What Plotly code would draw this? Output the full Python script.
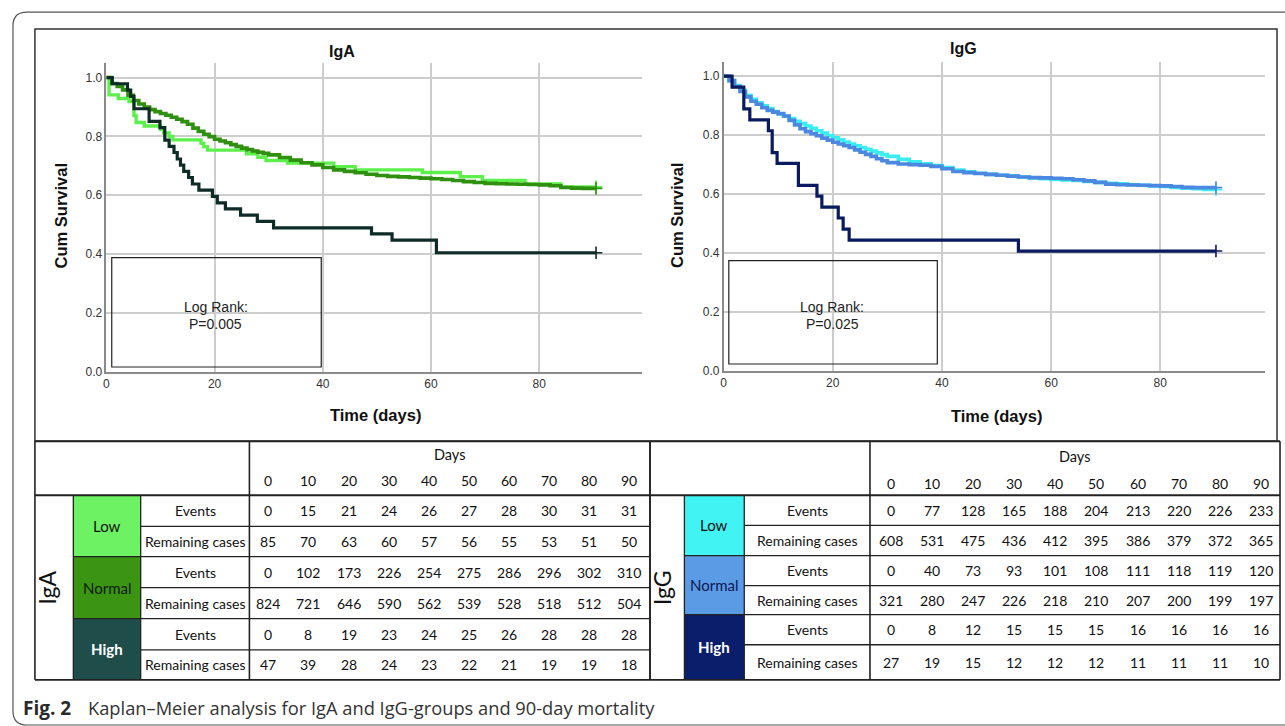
import plotly.graph_objects as go

# ---------------- data ----------------
# Kaplan-Meier curves (step points): time in days, cumulative survival
iga_low_t = [0, 0.5, 2.2, 4.2, 5.1, 5.5, 7.0, 10.0, 10.6, 11.6, 12.3, 17.5, 18.0, 18.7, 25.9, 28.0, 29.5, 33.5, 42.0, 46.0, 58.4, 65.4, 69.5, 77.4, 84.0, 90.5]
iga_low_s = [1.0, 0.941, 0.929, 0.918, 0.871, 0.847, 0.835, 0.824, 0.812, 0.800, 0.788, 0.776, 0.765, 0.753, 0.741, 0.729, 0.718, 0.709, 0.697, 0.686, 0.677, 0.663, 0.650, 0.638, 0.628, 0.628]

iga_normal_t = [0, 1, 2, 3, 4, 5, 6, 7, 8, 9, 10, 11, 12, 13, 14, 15, 16, 17, 18, 19, 20, 21, 22, 23, 24, 25, 26, 27, 28, 29, 30,
                32, 34, 36, 38, 40, 42, 44, 46, 48, 50, 52, 54, 56, 58, 60, 62, 64, 66, 68, 70, 72, 74, 76, 78, 80, 82, 84, 86, 88, 90.5]
iga_normal_s = [1.0, 0.98, 0.97, 0.958, 0.94, 0.922, 0.91, 0.90, 0.891, 0.884, 0.878, 0.872, 0.865, 0.858, 0.85, 0.841, 0.828, 0.817, 0.807, 0.799, 0.79,
                0.784, 0.778, 0.772, 0.766, 0.76, 0.755, 0.75, 0.746, 0.742, 0.737, 0.728, 0.719, 0.71, 0.703, 0.694, 0.686, 0.681, 0.676, 0.671, 0.667,
                0.664, 0.662, 0.66, 0.658, 0.656, 0.653, 0.65, 0.646, 0.643, 0.64, 0.639, 0.638, 0.637, 0.636, 0.635, 0.632, 0.626, 0.624, 0.623, 0.623]

iga_high_t = [0, 1.1, 3.9, 4.5, 5.1, 7.9, 9.9, 10.8, 11.6, 12.5, 13.1, 13.7, 14.3, 15.2, 15.9, 17.1, 19.6, 20.5, 22.0, 24.8, 27.9, 30.9, 49.0, 52.8, 61.0, 90.5]
iga_high_s = [1.0, 0.979, 0.957, 0.936, 0.894, 0.851, 0.830, 0.787, 0.766, 0.745, 0.723, 0.702, 0.681, 0.660, 0.638, 0.617, 0.596, 0.574, 0.553, 0.532, 0.511, 0.489, 0.468, 0.447, 0.404, 0.404]

igg_low_t = [0, 1, 2, 3, 4, 5, 6, 7, 8, 9, 10, 11, 12, 13, 14, 15, 16, 17, 18, 19, 20, 21, 22, 23, 24, 25, 26, 27, 28, 29, 30,
             32, 34, 36, 38, 40, 42, 44, 46, 48, 50, 52, 54, 56, 58, 60, 62, 64, 66, 68, 70, 72, 74, 76, 78, 80, 82, 84, 86, 88, 90.2]
igg_low_s = [1.0, 0.985, 0.968, 0.952, 0.935, 0.922, 0.91, 0.9, 0.89, 0.88, 0.872, 0.864, 0.856, 0.847, 0.839, 0.831, 0.823, 0.815, 0.807, 0.799, 0.791,
             0.784, 0.777, 0.77, 0.764, 0.758, 0.752, 0.746, 0.74, 0.734, 0.728, 0.718, 0.71, 0.703, 0.697, 0.69, 0.682, 0.676, 0.671, 0.667, 0.664,
             0.661, 0.658, 0.655, 0.652, 0.65, 0.648, 0.646, 0.643, 0.64, 0.637, 0.635, 0.632, 0.63, 0.628, 0.626, 0.623, 0.62, 0.618, 0.616, 0.615]

igg_normal_t = [0, 1, 2, 3, 4, 5, 6, 7, 8, 9, 10, 11, 12, 13, 14, 15, 16, 17, 18, 19, 20, 21, 22, 23, 24, 25, 26, 27, 28, 29, 30,
                32, 34, 36, 38, 40, 42, 44, 46, 48, 50, 52, 54, 56, 58, 60, 62, 64, 66, 68, 70, 72, 74, 76, 78, 80, 82, 84, 86, 88, 90.2]
igg_normal_s = [1.0, 0.985, 0.965, 0.948, 0.93, 0.915, 0.905, 0.893, 0.884, 0.878, 0.873, 0.865, 0.85, 0.835, 0.822, 0.812, 0.805, 0.798, 0.79, 0.783, 0.776,
                0.77, 0.764, 0.758, 0.75, 0.742, 0.735, 0.728, 0.72, 0.713, 0.707, 0.702, 0.7, 0.698, 0.694, 0.686, 0.677, 0.673, 0.67, 0.667, 0.664,
                0.661, 0.658, 0.656, 0.655, 0.654, 0.652, 0.649, 0.645, 0.64, 0.634, 0.632, 0.631, 0.63, 0.629, 0.628, 0.626, 0.623, 0.622, 0.622, 0.622]

igg_high_t = [0, 1.55, 3.7, 4.8, 8.2, 8.9, 9.8, 13.7, 17.1, 18.0, 21.0, 21.9, 23.0, 54.0, 90.2]
igg_high_s = [1.0, 0.963, 0.889, 0.852, 0.815, 0.741, 0.704, 0.630, 0.593, 0.556, 0.519, 0.481, 0.444, 0.407, 0.407]

x_ticks = [0, 20, 40, 60, 80]
y_ticks = [0.0, 0.2, 0.4, 0.6, 0.8, 1.0]

iga_p = "P=0.005"
igg_p = "P=0.025"

# Risk tables
days = [0, 10, 20, 30, 40, 50, 60, 70, 80, 90]
groups = ["Low", "Normal", "High"]
row_labels = ["Events", "Remaining cases"]
iga_low_events = [0, 15, 21, 24, 26, 27, 28, 30, 31, 31]
iga_low_remaining = [85, 70, 63, 60, 57, 56, 55, 53, 51, 50]
iga_normal_events = [0, 102, 173, 226, 254, 275, 286, 296, 302, 310]
iga_normal_remaining = [824, 721, 646, 590, 562, 539, 528, 518, 512, 504]
iga_high_events = [0, 8, 19, 23, 24, 25, 26, 28, 28, 28]
iga_high_remaining = [47, 39, 28, 24, 23, 22, 21, 19, 19, 18]
igg_low_events = [0, 77, 128, 165, 188, 204, 213, 220, 226, 233]
igg_low_remaining = [608, 531, 475, 436, 412, 395, 386, 379, 372, 365]
igg_normal_events = [0, 40, 73, 93, 101, 108, 111, 118, 119, 120]
igg_normal_remaining = [321, 280, 247, 226, 218, 210, 207, 200, 199, 197]
igg_high_events = [0, 8, 12, 15, 15, 15, 16, 16, 16, 16]
igg_high_remaining = [27, 19, 15, 12, 12, 12, 11, 11, 11, 10]

caption_bold = "Fig. 2"
caption_text = "Kaplan–Meier analysis for IgA and IgG-groups and 90-day mortality"

# ---------------- styling / geometry ----------------
W, H = 1285, 735
REF_H = 726
def fx(p): return p / W
def fy(p): return 1 - p / REF_H

NARROW = "Liberation Sans Narrow, Arial Narrow, Liberation Sans, Arial, sans-serif"
SANS = "Liberation Sans, Arial, sans-serif"
TAB = "Lato, Carlito, Calibri, Open Sans, sans-serif"

iga_colors = {"Low": "#5def4b", "Normal": "#2f8f0e", "High": "#0f2b27"}
igg_colors = {"Low": "#3aeef0", "Normal": "#4a88e2", "High": "#0a1a5e"}
iga_cell = {"Low": "#6cf262", "Normal": "#3b9513", "High": "#1f4d4a"}
igg_cell = {"Low": "#42f3f3", "Normal": "#5b9be6", "High": "#0a1e6b"}
cell_text = {"iga": {"Low": "#111111", "Normal": "#0d1a05", "High": "#ffffff"},
             "igg": {"Low": "#111111", "Normal": "#0a1850", "High": "#ffffff"}}

fig = go.Figure()

def add_curve(t, s, color, width, xa, ya):
    fig.add_trace(go.Scatter(x=t, y=s, mode="lines", line=dict(shape="hv", color=color, width=width),
                             xaxis=xa, yaxis=ya, hoverinfo="skip", showlegend=False))
    fig.add_trace(go.Scatter(x=[t[-1]], y=[s[-1]], mode="markers",
                             marker=dict(symbol="cross-thin", size=9, line=dict(width=1.6, color=color)),
                             xaxis=xa, yaxis=ya, hoverinfo="skip", showlegend=False))

add_curve(iga_low_t, iga_low_s, iga_colors["Low"], 3.4, "x", "y")
add_curve(iga_normal_t, iga_normal_s, iga_colors["Normal"], 3.6, "x", "y")
add_curve(iga_high_t, iga_high_s, iga_colors["High"], 3.2, "x", "y")
add_curve(igg_low_t, igg_low_s, igg_colors["Low"], 3.6, "x2", "y2")
add_curve(igg_normal_t, igg_normal_s, igg_colors["Normal"], 3.6, "x2", "y2")
add_curve(igg_high_t, igg_high_s, igg_colors["High"], 3.2, "x2", "y2")

axis_common = dict(showgrid=True, gridcolor="#cdcdcd", gridwidth=1.5, zeroline=False,
                   showline=True, linecolor="#8a8a8a", linewidth=1.5, ticks="",
                   tickfont=dict(family=NARROW, size=12, color="#333333"), fixedrange=True)

fig.update_layout(
    width=W, height=H, margin=dict(l=0, r=0, t=0, b=0),
    paper_bgcolor="white", plot_bgcolor="white", showlegend=False,
    xaxis=dict(domain=[fx(103.6), fx(640)], range=[0, 98.9], anchor="y", tickvals=x_ticks, **axis_common),
    yaxis=dict(domain=[fy(370.5), fy(62.7)], range=[0, 1.05], anchor="x", tickvals=y_ticks, tickformat=".1f", **axis_common),
    xaxis2=dict(domain=[fx(722.3), fx(1264.5)], range=[0, 99.1], anchor="y2", tickvals=x_ticks, **axis_common),
    yaxis2=dict(domain=[fy(370), fy(61.7)], range=[0, 1.0486], anchor="x2", tickvals=y_ticks, tickformat=".1f", **axis_common),
)

shapes = []
annos = []

def line(x0, y0, x1, y1, color="#222222", width=1.3):
    shapes.append(dict(type="line", xref="paper", yref="paper", x0=fx(x0), y0=fy(y0), x1=fx(x1), y1=fy(y1),
                       line=dict(color=color, width=width), layer="above"))

def rect(x0, y0, x1, y1, fill=None, color="#222222", width=1.2, layer="above"):
    d = dict(type="rect", xref="paper", yref="paper", x0=fx(x0), y0=fy(y0), x1=fx(x1), y1=fy(y1),
             line=dict(color=color, width=width if fill is None else 0), layer=layer)
    if fill:
        d["fillcolor"] = fill
    shapes.append(d)

def text(x, y, s, size=14, color="#111111", family=TAB, xanchor="center", angle=0, bold=False):
    annos.append(dict(xref="paper", yref="paper", x=fx(x), y=fy(y), text=("<b>%s</b>" % s) if bold else s,
                      showarrow=False, xanchor=xanchor, yanchor="middle", textangle=angle,
                      font=dict(family=family, size=size, color=color)))

# outer rounded frame
pts = [(1300, 12), (24, 12), (10, 12), (10, 26), (10, 709), (10, 723), (24, 723), (1300, 723)]
p = [(fx(a), fy(b)) for a, b in pts]
path = "M %f,%f L %f,%f Q %f,%f %f,%f L %f,%f Q %f,%f %f,%f L %f,%f" % (
    p[0][0], p[0][1], p[1][0], p[1][1], p[2][0], p[2][1], p[3][0], p[3][1],
    p[4][0], p[4][1], p[5][0], p[5][1], p[6][0], p[6][1], p[7][0], p[7][1])
shapes.append(dict(type="path", xref="paper", yref="paper", path=path, line=dict(color="#555555", width=1.2)))

# inner frame of plots
rect(32, 29, 1277, 440, color="#333333", width=1.5)

# plot titles and axis titles
text(340, 51, "IgA", size=16, color="#111111", family=NARROW, bold=True)
text(963, 48, "IgG", size=16, color="#111111", family=NARROW, bold=True)
text(58, 215, "Cum Survival", size=16.5, color="#111111", family=SANS, angle=-90, bold=True)
text(675, 215, "Cum Survival", size=16.5, color="#111111", family=SANS, angle=-90, bold=True)
text(373, 414, "Time (days)", size=16.5, color="#111111", family=SANS, bold=True)
text(996, 415, "Time (days)", size=16.5, color="#111111", family=SANS, bold=True)

# log rank boxes
rect(109, 257, 319, 366, color="#222222", width=1.2)
text(213, 306, "Log Rank:", size=14, color="#222222", family=NARROW)
text(213, 323, iga_p, size=14, color="#222222", family=NARROW)
rect(727.5, 260, 936.5, 363, color="#222222", width=1.2)
text(831, 306, "Log Rank:", size=14, color="#222222", family=NARROW)
text(831, 323, igg_p, size=14, color="#222222", family=NARROW)

# ---------------- risk tables ----------------
def table(cols, rows, x0, dx, days_y, nums_y, name, name_x, cells, txtc, data):
    for g in range(3):
        rect(cols[1], rows[2 * g], cols[2], rows[2 * g + 2], fill=cells[groups[g]], layer="below")
    line(cols[0], 440, cols[4], 440, width=2)
    line(cols[0], rows[0], cols[4], rows[0], width=2)
    for i in range(1, 6):
        start = cols[1] if i % 2 == 0 else cols[2]
        line(start, rows[i], cols[4], rows[i])
    line(cols[0], rows[6], cols[4], rows[6], width=1.6)
    line(cols[0], 440, cols[0], rows[6], width=1.6)
    line(cols[1], rows[0], cols[1], rows[6])
    line(cols[2], rows[0], cols[2], rows[6])
    line(cols[3], 440, cols[3], rows[6], width=1.6)
    line(cols[4], 440, cols[4], rows[6], width=1.6)
    text((cols[3] + cols[4]) / 2, days_y, "Days", size=14.5)
    for j, d in enumerate(days):
        text(x0 + dx * j, nums_y, str(d), size=14)
    text(name_x, (rows[0] + rows[6]) / 2, name, size=23, angle=-90)
    for g in range(3):
        text((cols[1] + cols[2]) / 2, (rows[2 * g] + rows[2 * g + 2]) / 2, groups[g], size=15,
             color=txtc[groups[g]], bold=(groups[g] == "High"))
    for r in range(6):
        yc = (rows[r] + rows[r + 1]) / 2
        text((cols[2] + cols[3]) / 2, yc, row_labels[r % 2], size=14)
        for j, v in enumerate(data[r]):
            text(x0 + dx * j, yc, str(v), size=14)

table([32, 70.5, 138, 247, 648.5], [494, 525, 555, 586, 617, 648, 678], 266, 40.2, 453, 479, "IgA", 44,
      iga_cell, cell_text["iga"],
      [iga_low_events, iga_low_remaining, iga_normal_events, iga_normal_remaining, iga_high_events, iga_high_remaining])
table([648.5, 683, 743, 869, 1280], [494, 524, 554, 584, 613, 643, 678], 890, 41.2, 455, 482, "IgG", 660,
      igg_cell, cell_text["igg"],
      [igg_low_events, igg_low_remaining, igg_normal_events, igg_normal_remaining, igg_high_events, igg_high_remaining])

# caption
text(18, 706, caption_bold, size=19, color="#2a2a2a", family="Open Sans, Noto Sans, sans-serif", xanchor="left", bold=True)
text(83, 706, caption_text, size=18.3, color="#333333", family="Open Sans, Noto Sans, sans-serif", xanchor="left")

fig.update_layout(shapes=shapes, annotations=annos)

# remove the page's default body margin so the figure sits at the window's top-left corner
page_fix = ("document.documentElement.style.margin='0';document.body.style.margin='0';"
            "document.body.style.padding='0';document.body.style.overflow='hidden';"
            "var g=document.getElementById('{plot_id}');g.style.display='block';"
            "if(g.parentElement){g.parentElement.style.display='block';}")
fig.write_html("out.html", post_script=page_fix, config={"displayModeBar": False})
